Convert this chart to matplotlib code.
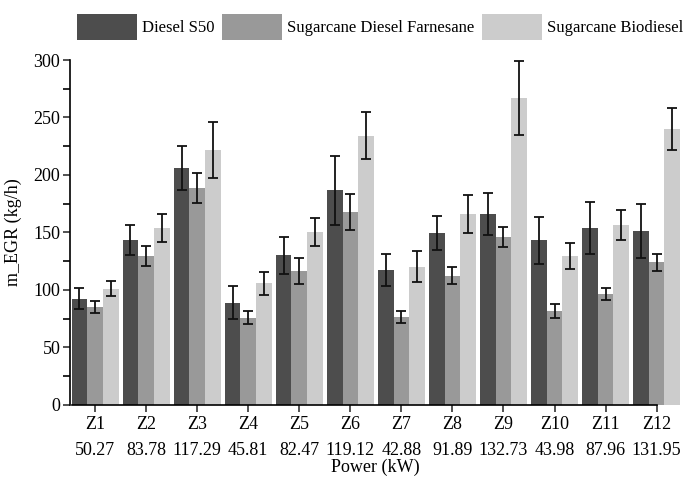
import matplotlib
matplotlib.use("Agg")
import matplotlib.pyplot as plt
import numpy as np

plt.rcParams["font.family"] = ["Liberation Serif", "DejaVu Serif"]
plt.rcParams["font.size"] = 13

zones = ["Z1", "Z2", "Z3", "Z4", "Z5", "Z6", "Z7", "Z8", "Z9", "Z10", "Z11", "Z12"]
power = ["50.27", "83.78", "117.29", "45.81", "82.47", "119.12",
         "42.88", "91.89", "132.73", "43.98", "87.96", "131.95"]

series_names = ["Diesel S50", "Sugarcane Diesel Farnesane", "Sugarcane Biodiesel"]
diesel = [92.5, 143.5, 206, 89, 130, 186.5, 117.5, 149.5, 166, 143, 154, 151]
diesel_err = [9, 13, 19.5, 14, 16, 30, 14, 14.5, 18, 20.5, 22.5, 23.5]
farnesane = [85, 129.5, 189, 76, 116.5, 168, 76.5, 112.5, 146, 82, 96.5, 124]
farnesane_err = [5, 9, 13, 6, 11.5, 15.5, 5, 7.5, 8.5, 6, 5.3, 7.4]
biodiesel = [101, 154, 222, 106, 150.5, 234, 120, 166, 267, 129.5, 156.5, 240]
biodiesel_err = [6.5, 12, 24.5, 10, 12, 20.5, 13.5, 16.5, 32, 11, 13, 18.5]

colors = ["#4d4d4d", "#999999", "#cccccc"]

fig = plt.figure(figsize=(6.87, 4.82), dpi=100)
ax = fig.add_axes([0.102, 0.160, 0.888, 0.7155])

x = np.arange(len(zones))
w = 0.307
for i, (vals, errs) in enumerate([(diesel, diesel_err), (farnesane, farnesane_err),
                                   (biodiesel, biodiesel_err)]):
    ax.bar(x + (i - 1) * w, vals, w, color=colors[i], label=series_names[i],
           yerr=errs, capsize=3.5, error_kw=dict(ecolor="#111111", elinewidth=1.3, capthick=1.3))

ax.set_xlim(-0.49, 11.46)
ax.set_ylim(0, 300)
ax.set_yticks(np.arange(0, 301, 50))
ax.set_yticks(np.arange(0, 301, 25), minor=True)
ax.set_xticks(x)
ax.set_xticklabels([f"{z}\n{p}" for z, p in zip(zones, power)], linespacing=1.7)
ax.tick_params(axis="both", direction="out", length=5, width=1.2, color="#333333")
ax.tick_params(axis="y", which="minor", length=5, width=1.2)
ax.tick_params(axis="x", pad=3)
ax.tick_params(axis="y", pad=2)

for s in ["top", "right"]:
    ax.spines[s].set_visible(False)
ax.spines["left"].set_bounds(0, 300)
ax.spines["bottom"].set_bounds(-0.45, 11)
ax.spines["left"].set_linewidth(1.2)
ax.spines["bottom"].set_linewidth(1.2)

ax.set_ylabel("m_EGR (kg/h)", labelpad=8)
ax.set_xlabel("Power (kW)", labelpad=0)

fig.legend(loc="upper left", bbox_to_anchor=(0.098, 0.992), ncol=3, frameon=False,
           fontsize=12, handlelength=3.6, handleheight=2.0, handletextpad=0.3,
           columnspacing=0.45, borderaxespad=0.2)

fig.savefig("out.png", dpi=100)
